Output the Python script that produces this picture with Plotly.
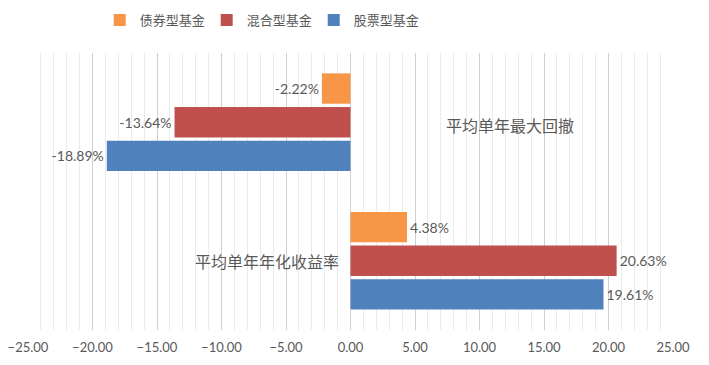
import plotly.graph_objects as go

categories = ["平均单年年化收益率", "平均单年最大回撤"]
series_names = ["股票型基金", "混合型基金", "债券型基金"]
stock_values = [19.61, -18.89]
mixed_values = [20.63, -13.64]
bond_values = [4.38, -2.22]
colors = ["#4F81BD", "#C0504D", "#F79646"]
x_ticks = [-25, -20, -15, -10, -5, 0, 5, 10, 15, 20, 25]

font_family = "Lato, 'Noto Sans CJK SC', sans-serif"
gray = "#595959"

fig = go.Figure()
for name, vals, col in zip(series_names, [stock_values, mixed_values, bond_values], colors):
    fig.add_trace(go.Bar(
        y=categories, x=vals, name=name, orientation="h",
        marker=dict(color=col, line=dict(width=0)),
        text=[f"{v:.2f}%" for v in vals], textposition="outside",
        textfont=dict(size=14, color=gray, family=font_family),
        cliponaxis=False,
    ))

# page body has an 8px margin, so the figure is sized/offset to compensate
fig.update_layout(
    width=701, height=357,
    margin=dict(l=20, r=36, t=45, b=35, autoexpand=False),
    paper_bgcolor="white", plot_bgcolor="white",
    barmode="group", bargap=0.27, bargroupgap=0.1,
    font=dict(family=font_family, color=gray),
    legend=dict(orientation="h", x=0.36, xanchor="center", y=0.966, yref="container", yanchor="middle",
                traceorder="reversed", font=dict(size=13, color=gray),
                itemwidth=30, entrywidth=62, itemsizing="constant"),
    xaxis=dict(range=[-25, 25], tickvals=x_ticks, tickformat=".2f", automargin=False,
               showgrid=True, gridcolor="#D0D0D0", gridwidth=1,
               minor=dict(dtick=1, showgrid=True, gridcolor="#EBEBEB", gridwidth=1),
               zeroline=False, showline=False, ticks="", ticklabelstandoff=8,
               ticklabeloverflow="allow",
               tickfont=dict(size=13, color=gray)),
    yaxis=dict(showticklabels=False, showgrid=False, zeroline=False, showline=False, automargin=False),
)

label_x = [-6.5, 12.4]
label_shift = [-1, -3]
for cat, lx, sh in zip(categories, label_x, label_shift):
    fig.add_annotation(x=lx, y=cat, text=cat, showarrow=False, yshift=sh,
                       font=dict(size=16, color=gray, family=font_family))

fig.write_html("out.html")
